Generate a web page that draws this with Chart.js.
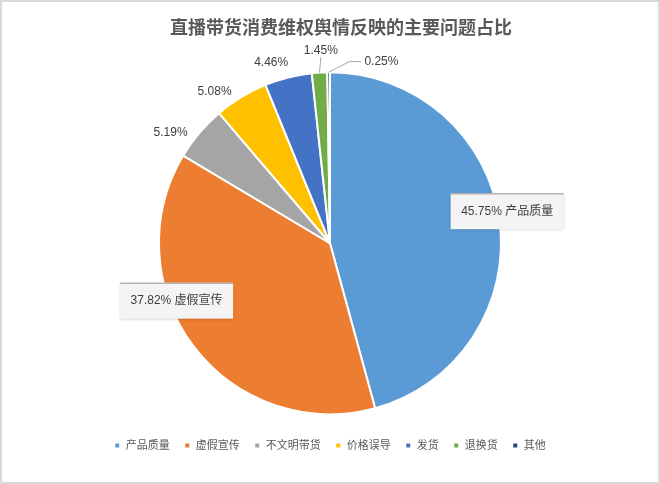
<!DOCTYPE html>
<html>
<head>
<meta charset="utf-8">
<script src="https://cdn.jsdelivr.net/npm/chart.js@4"></script>
<style>
  html, body { margin: 0; padding: 0; background: #fff; }
  #wrap { width: 660px; height: 484px; position: relative; }
</style>
</head>
<body>
<div id="wrap"><canvas id="issuePie"></canvas></div>
<script>
// issue share pie

const chartTitle = '直播带货消费维权舆情反映的主要问题占比';
const categories = ['产品质量', '虚假宣传', '不文明带货', '价格误导', '发货', '退换货', '其他'];
const shares = [45.75, 37.82, 5.19, 5.08, 4.46, 1.45, 0.25];
const sliceColors = ['#5B9BD5', '#ED7D31', '#A5A5A5', '#FFC000', '#4472C4', '#70AD47', '#264478'];

// where each data label sits: angle nudge (deg) and distance as a share of the radius
const labelTurn = [-2.6, 16.7, -5.4, -6, -3.95, 0.8, 16.25];
const labelReach = [1.053, 0.958, 1.135, 1.113, 1.108, 1.13, 1.104];
const labelBoxed = [true, true, false, false, false, false, false];
const labelLeader = [null, null, null, null, null, 'below', 'left'];

const FONT = '"Liberation Sans", "Noto Sans CJK SC", sans-serif';

const frame = {
  id: 'frame',
  beforeDraw(chart) {
    const c = chart.ctx;
    c.save();
    c.fillStyle = '#fff';
    c.fillRect(0, 0, chart.width, chart.height);
    c.strokeStyle = '#d9d9d9';
    c.lineWidth = 2;
    c.strokeRect(1, 1, chart.width - 2, chart.height - 2);
    // title sits a little right of centre in the original
    c.fillStyle = '#595959';
    c.font = 'bold 18px "Noto Sans CJK SC", sans-serif';
    c.textAlign = 'center';
    c.textBaseline = 'middle';
    c.fillText(chartTitle, chart.width / 2 + 11, 27);
    c.restore();
  }
};

const sliceLabels = {
  id: 'sliceLabels',
  afterDatasetsDraw(chart) {
    const c = chart.ctx;
    const meta = chart.getDatasetMeta(0);
    c.save();
    c.font = '12px ' + FONT;
    c.textAlign = 'center';
    c.textBaseline = 'middle';
    meta.data.forEach((arc, i) => {
      const p = arc.getProps(['x', 'y', 'startAngle', 'endAngle', 'outerRadius'], true);
      const mid = (p.startAngle + p.endAngle) / 2;
      const a = mid + labelTurn[i] * Math.PI / 180;
      const lx = p.x + Math.cos(a) * p.outerRadius * labelReach[i];
      const ly = p.y + Math.sin(a) * p.outerRadius * labelReach[i];
      const txt = labelBoxed[i] ? shares[i].toFixed(2) + '% ' + categories[i] : shares[i].toFixed(2) + '%';
      const w = c.measureText(txt).width;

      if (labelBoxed[i]) {
        const bw = w + 21, bh = 36;
        const bx = lx - bw / 2, by = ly - bh / 2;
        c.save();
        c.shadowColor = 'rgba(0,0,0,0.18)';
        c.shadowBlur = 3;
        c.shadowOffsetY = 1;
        c.fillStyle = '#f4f4f4';
        c.fillRect(bx, by, bw, bh);
        c.restore();
        c.fillStyle = '#a6a6a6';
        c.fillRect(bx, by, bw, 1.2);
      }

      if (labelLeader[i]) {
        const ex = p.x + Math.cos(mid) * p.outerRadius;
        const ey = p.y + Math.sin(mid) * p.outerRadius;
        c.strokeStyle = '#a6a6a6';
        c.lineWidth = 1;
        c.beginPath();
        c.moveTo(ex, ey);
        if (labelLeader[i] === 'below') {
          c.lineTo(lx, ly + 7);
        } else {
          const tx = lx - w / 2 - 3;
          c.lineTo(tx - 12, ly);
          c.lineTo(tx, ly);
        }
        c.stroke();
      }

      c.fillStyle = '#404040';
      c.fillText(txt, lx, ly);
    });
    c.restore();
  }
};

new Chart(document.getElementById('issuePie'), {
  type: 'pie',
  data: {
    labels: categories,
    datasets: [{
      data: shares,
      backgroundColor: sliceColors,
      borderColor: '#ffffff',
      borderWidth: 2
    }]
  },
  options: {
    responsive: true,
    maintainAspectRatio: false,
    animation: false,
    radius: 171,
    layout: { padding: { top: 61, bottom: 23 } },
    plugins: {
      title: { display: false },
      legend: {
        position: 'bottom',
        labels: {
          color: '#595959',
          boxWidth: 6,
          boxHeight: 6,
          padding: 14.5,
          font: { size: 11, family: FONT }
        }
      },
      tooltip: { enabled: false }
    }
  },
  plugins: [frame, sliceLabels]
});
</script>
</body>
</html>
